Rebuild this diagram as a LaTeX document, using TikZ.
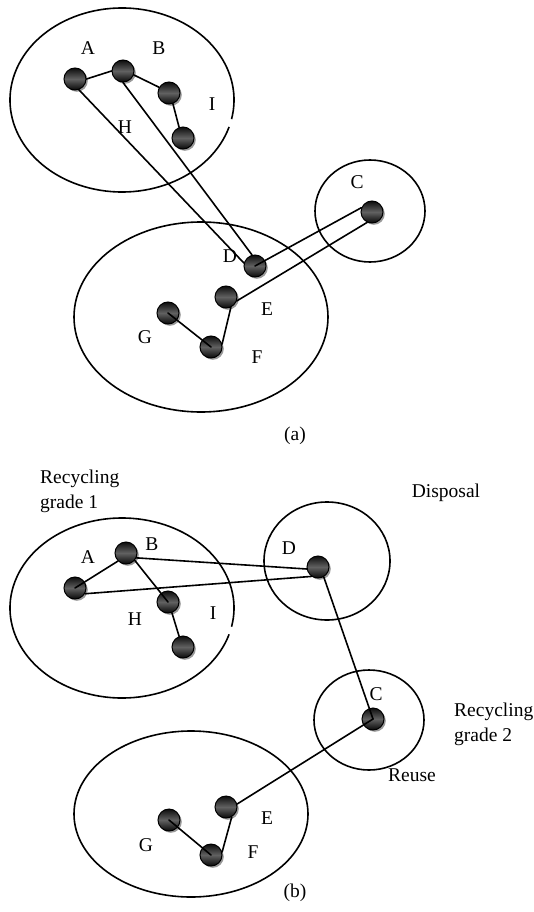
\documentclass[tikz,border=0pt]{standalone}
\usepackage{fontspec}
\setmainfont{Liberation Serif}
\usetikzlibrary{shadows}
\begin{document}
\begin{tikzpicture}[x=1pt,y=-1pt,
  ball/.style={circle, minimum size=22pt, inner sep=0pt, draw=black, line width=1pt,
    top color=black!95, bottom color=black!97, middle color=black!62,
    drop shadow={shadow xshift=1.8pt, shadow yshift=-1.8pt, opacity=0.4, fill=black}},
  lbl/.style={font=\fontsize{19.5}{25}\selectfont, inner sep=0pt},
  link/.style={line width=1.6pt, line cap=round},
  region/.style={line width=1.6pt}]
\useasboundingbox (0,0) rectangle (534,912);

% ---------- (a) ----------
\draw[region] (122,100) ++(17:112 and 92) arc[start angle=17, end angle=372, x radius=112, y radius=92];
\draw[region] (370,211) ellipse [x radius=55, y radius=51];
\draw[region] (201,317) ellipse [x radius=127, y radius=95];

\node[ball] (aA) at (75,79) {};
\node[ball] (aB) at (123,71) {};
\node[ball] (aH) at (169,93) {};
\node[ball] (aI) at (183,138) {};
\node[ball] (aD) at (255,266) {};
\node[ball] (aC) at (372,212) {};
\node[ball] (aE) at (226,297) {};
\node[ball] (aG) at (168,313) {};
\node[ball] (aF) at (211,347) {};

\draw[link] (aA.east) -- (aB.west);
\draw[link] (aB.-20) -- (aH.150);
\draw[link] (aH.-70) -- (aI.110);
\draw[link] (aA.290) -- (aD.165);
\draw[link] (aB.270) -- (aD.105);
\draw[link] (aD.center) -- (aC.158);
\draw[link] (aE.-20) -- (aC.245);
\draw[link] (aG.center) -- (aF.center);
\draw[link] (aF.15) -- (aE.-65);

\node[lbl] (laA) at (88,48) {A};
\node[lbl] (laB) at (159,48) {B};
\node[lbl] (laH) at (125,127) {H};
\node[lbl] (laI) at (212,104) {I};
\node[lbl] (laC) at (357,182) {C};
\node[lbl] (laD) at (230,256) {D};
\node[lbl] (laE) at (267,309) {E};
\node[lbl] (laG) at (145,337) {G};
\node[lbl] (laF) at (257,357) {F};
\node[lbl] (capa) at (295,436) {(a)};

% ---------- (b) ----------
\draw[region] (122,608) ++(17:112 and 90) arc[start angle=17, end angle=372, x radius=112, y radius=90];
\draw[region] (327,561) ellipse [x radius=63, y radius=59];
\draw[region] (369,720) ellipse [x radius=55, y radius=50];
\draw[region] (191,814) ellipse [x radius=117, y radius=83];

\node[ball] (bA) at (75,588) {};
\node[ball] (bB) at (126,553) {};
\node[ball] (bH) at (168,602) {};
\node[ball] (bI) at (183,647) {};
\node[ball] (bD) at (318,567) {};
\node[ball] (bC) at (373,719) {};
\node[ball] (bE) at (226,807) {};
\node[ball] (bG) at (169,820) {};
\node[ball] (bF) at (211,855) {};

\draw[link] (bA.center) -- (bB.225);
\draw[link] (bB.-40) -- (bH.center);
\draw[link] (bH.-70) -- (bI.110);
\draw[link] (bB.-25) -- (bD.190);
\draw[link] (bA.-30) -- (bD.235);
\draw[link] (bD.-60) -- (bC.center);
\draw[link] (bC.center) -- (bE.15);
\draw[link] (bG.center) -- (bF.center);
\draw[link] (bF.15) -- (bE.-60);

\node[lbl] (lbA) at (88,557) {A};
\node[lbl] (lbB) at (152,544) {B};
\node[lbl] (lbH) at (135,619) {H};
\node[lbl] (lbI) at (213,613) {I};
\node[lbl] (lbD) at (289,548) {D};
\node[lbl] (lbC) at (376,694) {C};
\node[lbl] (lbE) at (267,818) {E};
\node[lbl] (lbG) at (146,845) {G};
\node[lbl] (lbF) at (253,852) {F};

\node[lbl, align=left, anchor=west] (rg1) at (40,491) {Recycling\\grade 1};
\node[lbl, anchor=base] (disp) at (446,497) {Disposal};
\node[lbl, align=left, anchor=west] (rg2) at (454,724) {Recycling\\grade 2};
\node[lbl, anchor=base] (reuse) at (412,781) {Reuse};
\node[lbl] (capb) at (295,893) {(b)};
\end{tikzpicture}
\end{document}
